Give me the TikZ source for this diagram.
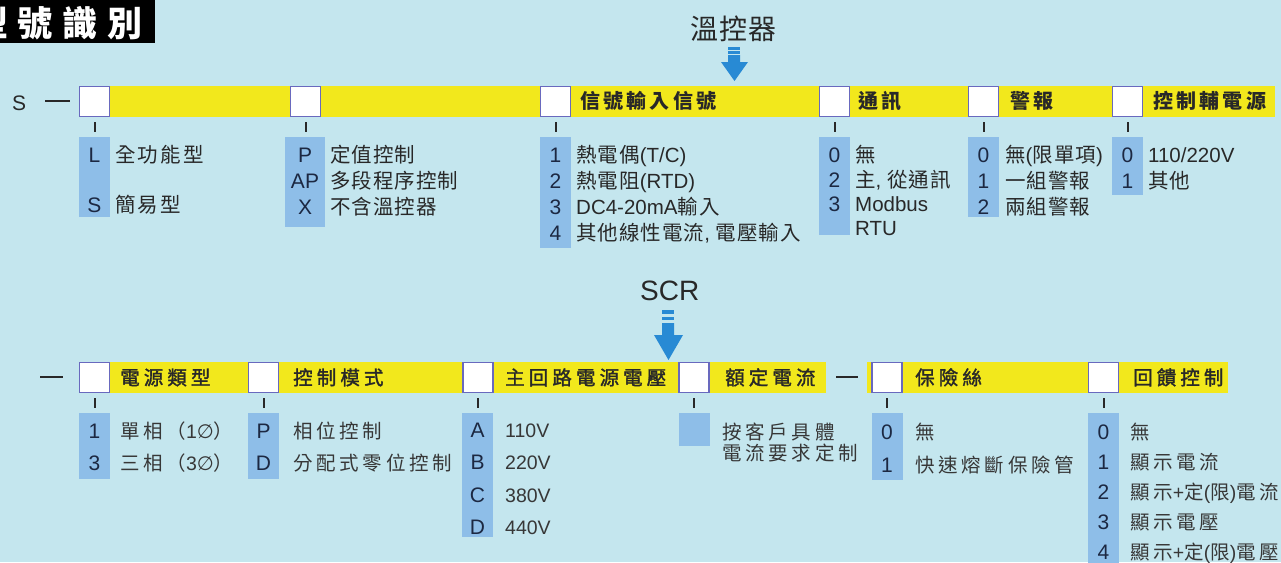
\documentclass[tikz,border=0pt]{standalone}
\usepackage{fontspec}
\setmainfont{Liberation Sans}
\newfontfamily\cjk{Noto Sans CJK TC}
\newfontfamily\dvs{DejaVu Sans}
\definecolor{bgc}{RGB}{196,230,238}
\definecolor{yel}{RGB}{242,232,28}
\definecolor{colc}{RGB}{142,190,232}
\definecolor{boxc}{RGB}{105,105,190}
\definecolor{arrc}{RGB}{40,138,212}
\definecolor{txt}{RGB}{40,40,40}
\definecolor{txtb}{RGB}{55,55,55}
\definecolor{codec}{RGB}{28,40,66}
\newcommand\Ct[1]{{\cjk\addfontfeature{LetterSpace=5}#1}}
\newcommand\Cw[1]{{\cjk\addfontfeature{LetterSpace=11}#1}}
\newcommand\Cb[1]{{\cjk\addfontfeature{LetterSpace=19}#1}}
\newcommand\Cl[1]{{\cjk\bfseries\addfontfeature{LetterSpace=16}#1}}
\newcommand\Cm[1]{{\cjk\addfontfeature{LetterSpace=21,FakeBold=1.6}#1}}
\tikzset{
  box/.style={draw=boxc, line width=1.1pt, fill=white, minimum size=30pt, inner sep=0pt},
  col/.style={fill=colc, draw=none, inner sep=0pt},
  code/.style={anchor=base, text=codec, inner sep=0pt, font=\fontsize{21}{24}\selectfont},
  itm/.style={anchor=base west, text=txt, inner sep=0pt, font=\fontsize{20.5}{24}\selectfont},
  itmb/.style={anchor=base west, text=txtb, inner sep=0pt, font=\fontsize{19.5}{24}\selectfont},
  lab/.style={anchor=base west, text=txt, inner sep=0pt, font=\fontsize{20}{24}\selectfont},
  labb/.style={anchor=base west, text=txt, inner sep=0pt, font=\fontsize{19.5}{24}\selectfont},
  tick/.style={draw=txt, line width=2pt},
  dashl/.style={draw=txt, line width=2.4pt},
  arr/.style={fill=arrc, draw=none},
}
\begin{document}
\begin{tikzpicture}[x=1pt,y=-1pt]
\useasboundingbox (0,0) rectangle (1281,562);
\fill[bgc] (0,0) rectangle (1281,562);
% title
\fill[black] (0,0) rectangle (155,43);
\begin{scope}
\clip (0,0) rectangle (155,43);
\node[anchor=base west, text=white, inner sep=0pt, font=\fontsize{35}{40}\selectfont] (title) at (-27,36) {\cjk\bfseries\addfontfeature{LetterSpace=28}型號識別};
\end{scope}
% heading arrows
\node[anchor=base west, text=txt, inner sep=0pt, font=\fontsize{28}{32}\selectfont] (hwk) at (690,39) {\cjk\addfontfeature{LetterSpace=4}溫控器};
\fill[arr] (728,47) rectangle (740,50);
\fill[arr] (728,51) rectangle (740,54);
\fill[arr] (728,55) -- (740,55) -- (740,62) -- (748,62) -- (734.5,81) -- (721,62) -- (728,62) -- cycle;
\node[anchor=base west, text=txt, inner sep=0pt, font=\fontsize{28}{32}\selectfont] (hscr) at (640,300) {SCR};
\fill[arr] (662,310) rectangle (674,314);
\fill[arr] (662,317) rectangle (674,320);
\fill[arr] (662,323) -- (674,323) -- (674,335) -- (683,335) -- (668.5,360) -- (654,335) -- (662,335) -- cycle;
% ===== top row =====
\node[anchor=base west, text=txt, inner sep=0pt, font=\fontsize{21}{24}\selectfont] (s0) at (12,110) {S};
\draw[dashl] (45,101) -- (70,101);
\fill[yel] (110,86) rectangle (1275,117);
\node[box] (b1) at (94.5,101.5) {};
\node[box] (b2) at (305.5,101.5) {};
\node[box] (b3) at (555.5,101.5) {};
\node[box] (b4) at (834.5,101.5) {};
\node[box] (b5) at (983.5,101.5) {};
\node[box] (b6) at (1127.5,101.5) {};
\node[lab] (l3) at (580,108.8) {\Cl{信號輸入信號}};
\node[lab] (l4) at (858,108.8) {\Cl{通訊}};
\node[lab] (l5) at (1010,108.8) {\Cl{警報}};
\node[lab] (l6) at (1153,108.8) {\Cl{控制輔電源}};
\foreach \b in {b1,b2,b3,b4,b5,b6}{\draw[tick] ([yshift=-5pt]\b.south) -- ([yshift=-15pt]\b.south);}
\node[col, minimum width=31pt, minimum height=80pt] (c1) at (94.5,177) {};
\node[col, minimum width=40pt, minimum height=90pt] (c2) at (305,182) {};
\node[col, minimum width=31pt, minimum height=111pt] (c3) at (555.5,192.5) {};
\node[col, minimum width=31pt, minimum height=98pt] (c4) at (834.5,186) {};
\node[col, minimum width=31pt, minimum height=80pt] (c5) at (983.5,177) {};
\node[col, minimum width=31pt, minimum height=58pt] (c6) at (1127.5,166) {};
% col 1
\node[code] (k1a) at (94.5,162.3) {L};
\node[code] (k1b) at (94.5,212.3) {S};
\node[itm] (t1a) at (115,162.3) {\Cw{全功能型}};
\node[itm] (t1b) at (115,212.3) {\Cw{簡易型}};
% col 2
\node[code] (k2a) at (305,162.3) {P};
\node[code] (k2b) at (305,188.3) {AP};
\node[code] (k2c) at (305,214.3) {X};
\node[itm] (t2a) at (330,162.3) {\Ct{定值控制}};
\node[itm] (t2b) at (330,188.3) {\Ct{多段程序控制}};
\node[itm] (t2c) at (330,214.3) {\Ct{不含溫控器}};
% col 3
\node[code] (k3a) at (555.5,162.3) {1};
\node[code] (k3b) at (555.5,188.3) {2};
\node[code] (k3c) at (555.5,214.3) {3};
\node[code] (k3d) at (555.5,240.3) {4};
\node[itm] (t3a) at (576,162.3) {\Ct{熱電偶}(T/C)};
\node[itm] (t3b) at (576,188.3) {\Ct{熱電阻}(RTD)};
\node[itm] (t3c) at (576,214.3) {DC4-20mA\Ct{輸入}};
\node[itm] (t3d) at (576,240.3) {\Ct{其他線性電流}, \Ct{電壓輸入}};
% col 4
\node[code] (k4a) at (834.5,162.3) {0};
\node[code] (k4b) at (834.5,187.3) {2};
\node[code] (k4c) at (834.5,211.3) {3};
\node[itm] (t4a) at (855,162.3) {\Ct{無}};
\node[itm] (t4b) at (855,187.3) {\Ct{主}, \Ct{從通訊}};
\node[itm] (t4c) at (855,211.3) {Modbus};
\node[itm] (t4d) at (855,235.3) {RTU};
% col 5
\node[code] (k5a) at (983.5,162.3) {0};
\node[code] (k5b) at (983.5,188.3) {1};
\node[code] (k5c) at (983.5,214.3) {2};
\node[itm] (t5a) at (1005,162.3) {\Ct{無}(\Ct{限單項})};
\node[itm] (t5b) at (1005,188.3) {\Ct{一組警報}};
\node[itm] (t5c) at (1005,214.3) {\Ct{兩組警報}};
% col 6
\node[code] (k6a) at (1127.5,162.3) {0};
\node[code] (k6b) at (1127.5,188.3) {1};
\node[itm] (t6a) at (1148,162.3) {110/220V};
\node[itm] (t6b) at (1148,188.3) {\Ct{其他}};
% ===== bottom row =====
\draw[dashl] (40,377) -- (63,377);
\draw[dashl] (836,377) -- (858,377);
\fill[yel] (110,362) rectangle (826,393);
\fill[yel] (867,362) rectangle (1228,393);
\node[box] (d1) at (94.5,377.5) {};
\node[box] (d2) at (263.5,377.5) {};
\node[box] (d3) at (478,377.5) {};
\node[box] (d4) at (694,377.5) {};
\node[box] (d5) at (887,377.5) {};
\node[box] (d6) at (1103.5,377.5) {};
\node[labb] (m1) at (120,384.8) {\Cm{電源類型}};
\node[labb] (m2) at (293,384.8) {\Cm{控制模式}};
\node[labb] (m3) at (505,384.8) {\Cm{主回路電源電壓}};
\node[labb] (m4) at (725,384.8) {\Cm{額定電流}};
\node[labb] (m5) at (915,384.8) {\Cm{保險絲}};
\node[labb] (m6) at (1133,384.8) {\Cm{回饋控制}};
\foreach \b in {d1,d2,d3,d4,d5,d6}{\draw[tick] ([yshift=-5pt]\b.south) -- ([yshift=-15pt]\b.south);}
\node[col, minimum width=31pt, minimum height=66pt] (e1) at (94.5,446) {};
\node[col, minimum width=31pt, minimum height=66pt] (e2) at (263.5,446) {};
\node[col, minimum width=31pt, minimum height=124pt] (e3) at (477.5,475) {};
\node[col, minimum width=31pt, minimum height=33pt] (e4) at (694,429.5) {};
\node[col, minimum width=31pt, minimum height=67pt] (e5) at (887,446.5) {};
\node[col, minimum width=31pt, minimum height=160pt] (e6) at (1103.5,493) {};
% e1
\node[code] (n1a) at (94.5,438.3) {1};
\node[code] (n1b) at (94.5,470.3) {3};
\node[itmb] (u1a) at (120,438.3) {\Cb{單相（}1{\dvs ∅}\Cb{）}};
\node[itmb] (u1b) at (120,470.3) {\Cb{三相（}3{\dvs ∅}\Cb{）}};
% e2
\node[code] (n2a) at (263.5,438.3) {P};
\node[code] (n2b) at (263.5,470.3) {D};
\node[itmb] (u2a) at (293,438.3) {\Cb{相位控制}};
\node[itmb] (u2b) at (293,470.3) {\Cb{分配式零位控制}};
% e3
\node[code] (n3a) at (477.5,437.3) {A};
\node[code] (n3b) at (477.5,469.8) {B};
\node[code] (n3c) at (477.5,502.3) {C};
\node[code] (n3d) at (477.5,534.8) {D};
\begin{scope}[every node/.append style={font=\fontsize{21}{24}\selectfont\addfontfeature{LetterSpace=6}}]
\node[itmb] (u3a) at (505,437.3) {110V};
\node[itmb] (u3b) at (505,469.8) {220V};
\node[itmb] (u3c) at (505,502.3) {380V};
\node[itmb] (u3d) at (505,534.8) {440V};
\end{scope}
% e4
\node[itmb] (u4a) at (722,439.3) {\Cb{按客戶具體}};
\node[itmb] (u4b) at (722,460.3) {\Cb{電流要求定制}};
% e5
\node[code] (n5a) at (887,439.3) {0};
\node[code] (n5b) at (887,472.3) {1};
\node[itmb] (u5a) at (915,439.3) {\Cb{無}};
\node[itmb] (u5b) at (915,472.3) {\Cb{快速熔斷保險管}};
% e6
\node[code] (n6a) at (1103.5,439.3) {0};
\node[code] (n6b) at (1103.5,469.3) {1};
\node[code] (n6c) at (1103.5,499.8) {2};
\node[code] (n6d) at (1103.5,529.8) {3};
\node[code] (n6e) at (1103.5,559.3) {4};
\node[itmb] (u6a) at (1130,439.3) {\Cb{無}};
\node[itmb] (u6b) at (1130,469.3) {\Cb{顯示電流}};
\node[itmb] (u6c) at (1130,499.8) {\Cb{顯示}+\Cb{定}(\Cb{限})\Cb{電流}};
\node[itmb] (u6d) at (1130,529.8) {\Cb{顯示電壓}};
\node[itmb] (u6e) at (1130,559.3) {\Cb{顯示}+\Cb{定}(\Cb{限})\Cb{電壓}};
\end{tikzpicture}
\end{document}
